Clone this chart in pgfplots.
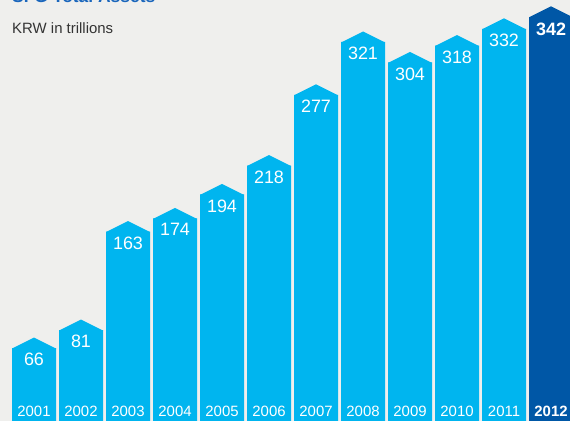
\documentclass[border=0pt]{standalone}
\usepackage{pgfplots}
\pgfplotsset{compat=1.18}
\usepackage{fontspec}
\setmainfont{Liberation Sans}
\definecolor{bg}{HTML}{EFEFED}
\definecolor{barc}{HTML}{00B5EF}
\definecolor{bard}{HTML}{0057A6}
\definecolor{ttl}{HTML}{1A66BC}
\definecolor{txt}{HTML}{333333}
\pgfdeclareplotmark{roof}{%
  \pgfpathmoveto{\pgfpoint{-22bp}{-0.5bp}}%
  \pgfpathlineto{\pgfpoint{0bp}{10.5bp}}%
  \pgfpathlineto{\pgfpoint{22bp}{-0.5bp}}%
  \pgfpathclose\pgfusepathqfill}
\begin{document}
\begin{tikzpicture}
\clip (0,0) rectangle (570bp,421bp);
\begin{axis}[at={(0,0)}, anchor=south west, scale only axis,
  width=570bp, height=421bp,
  xmin=-0.7234, xmax=11.404, ymin=5.17, ymax=356,
  axis line style={draw=none}, ytick=\empty,
  xtick={0,...,11},
  xticklabels={2001,2002,2003,2004,2005,2006,2007,2008,2009,2010,2011,\textbf{2012}},
  major tick length=0pt,
  xticklabel style={anchor=base, yshift=5bp, text=white, font=\fontsize{15}{15}\selectfont},
  axis background/.style={fill=bg},
  axis on top,
  /pgf/number format/assume math mode=true]
\addplot[ybar, bar width=44bp, bar shift=0pt, fill=barc, draw=none,
  nodes near coords,
  every node near coord/.append style={anchor=north, yshift=-5bp, inner sep=0pt, text=white, font=\fontsize{18}{18}\selectfont}]
  coordinates {(0,66)(1,81)(2,163)(3,174)(4,194)(5,218)(6,277)(7,321)(8,304)(9,318)(10,332)};
\addplot[only marks, mark=roof, mark options={fill=barc, draw=none}]
  coordinates {(0,66)(1,81)(2,163)(3,174)(4,194)(5,218)(6,277)(7,321)(8,304)(9,318)(10,332)};
\addplot[ybar, bar width=44bp, bar shift=0pt, fill=bard, draw=none,
  nodes near coords,
  every node near coord/.append style={anchor=north, yshift=-6bp, inner sep=0pt, text=white, font=\bfseries\fontsize{18}{18}\selectfont}]
  coordinates {(11,342)};
\addplot[only marks, mark=roof, mark options={fill=bard, draw=none}]
  coordinates {(11,342)};
\end{axis}
\node[overlay, anchor=base west, inner sep=0pt, font=\bfseries\fontsize{17.5}{18}\selectfont, text=ttl] at (12bp,418bp) {SFG Total Assets};
\node[overlay, anchor=base west, inner sep=0pt, font=\fontsize{15}{15}\selectfont, text=txt] at (12bp,387bp) {KRW in trillions};
\end{tikzpicture}
\end{document}
